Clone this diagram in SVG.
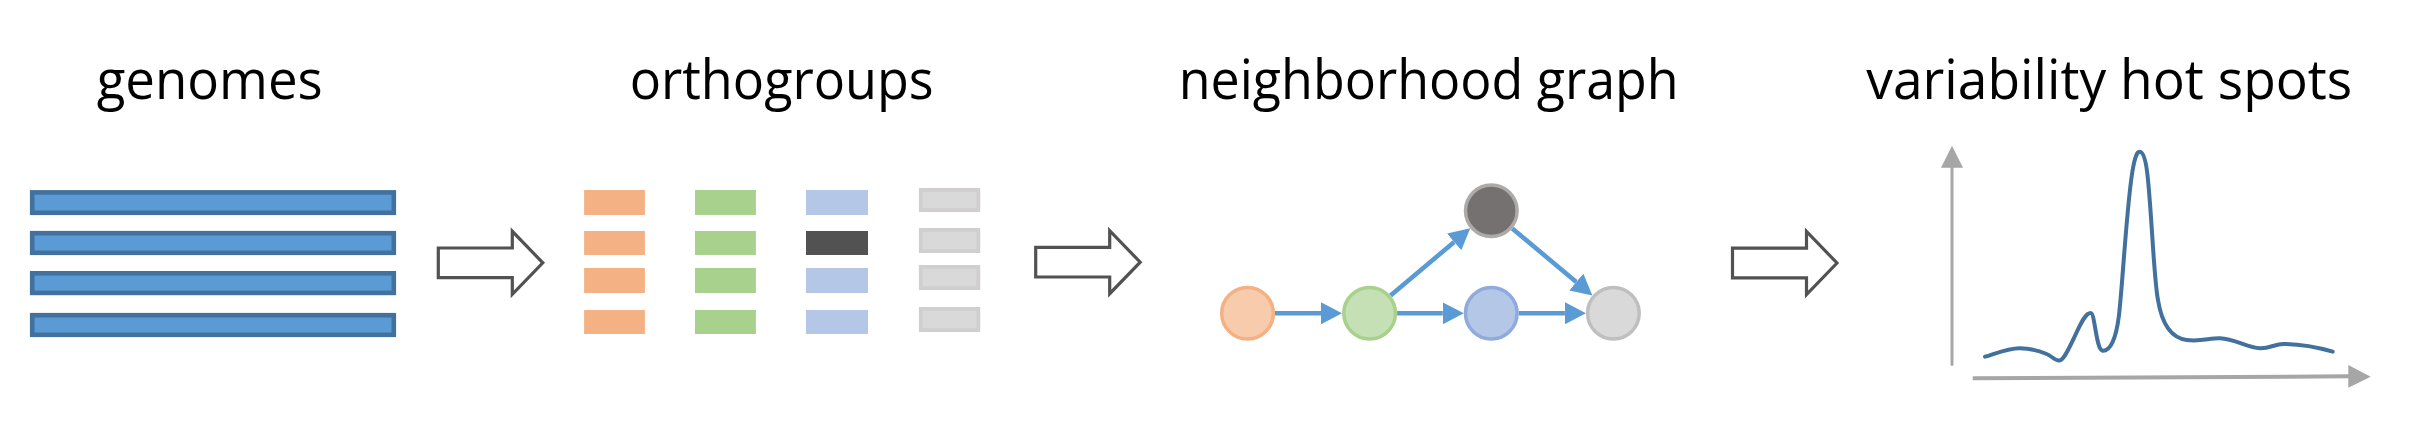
<svg xmlns="http://www.w3.org/2000/svg" width="2413" height="443" viewBox="0 0 2413 443">
<style>
.title{font-family:"Open Sans","Noto Sans","Liberation Sans",sans-serif;font-size:54px;fill:#000}
.genome{fill:#5B9BD5;stroke:#41719C;stroke-width:4.6}
.og-o{fill:#F4B183}
.og-g{fill:#A9D18E}
.og-b{fill:#B4C7E7}
.og-d{fill:#525252}
.og-x{fill:#D9D9D9;stroke:#D0CECE;stroke-width:3.8}
.step{fill:#fff;stroke:#525252;stroke-width:3.2;stroke-linejoin:miter}
.edge{stroke:#5B9BD5;stroke-width:4.6;fill:none}
.axis{stroke:#A6A6A6;fill:none}
</style>
<defs>
<marker id="ah" markerUnits="userSpaceOnUse" viewBox="0 0 21 22" markerWidth="21" markerHeight="22" refX="0" refY="11" orient="auto">
<path d="M0,0 L21,11 L0,22 Z" fill="#5B9BD5"/>
</marker>
<path id="bigarrow" d="M0,-14.8 H74 V-31.5 L104.5,0 L74,31.5 V14.8 H0 Z"/>
</defs>
<rect width="2413" height="443" fill="#fff"/>

<g id="titles">
<text class="title" x="96.7" y="99" textLength="226" lengthAdjust="spacingAndGlyphs">genomes</text>
<text class="title" x="629.7" y="99" textLength="304" lengthAdjust="spacingAndGlyphs">orthogroups</text>
<text class="title" x="1178.7" y="99" textLength="500" lengthAdjust="spacingAndGlyphs">neighborhood graph</text>
<text class="title" x="1866.3" y="99" textLength="486" lengthAdjust="spacingAndGlyphs">variability hot spots</text>
</g>

<g id="genomes">
<rect class="genome" x="32.2" y="192.4" width="361.6" height="20.4"/>
<rect class="genome" x="32.2" y="233.2" width="361.6" height="19.6"/>
<rect class="genome" x="32.2" y="273.3" width="361.6" height="19.6"/>
<rect class="genome" x="32.2" y="315.2" width="361.6" height="19.6"/>
</g>

<g id="step-arrows">
<use href="#bigarrow" class="step" transform="translate(438.3,262.8)"/>
<use href="#bigarrow" class="step" transform="translate(1035.7,262.2)"/>
<use href="#bigarrow" class="step" transform="translate(1732.5,263)"/>
</g>

<g id="orthogroups">
<rect class="og-o" x="584.1" y="190" width="60.8" height="25"/>
<rect class="og-o" x="584.1" y="231" width="60.8" height="24"/>
<rect class="og-o" x="584.1" y="268" width="60.8" height="25"/>
<rect class="og-o" x="584.1" y="310" width="60.8" height="24"/>
<rect class="og-g" x="695" y="190" width="60.9" height="25"/>
<rect class="og-g" x="695" y="231" width="60.9" height="24"/>
<rect class="og-g" x="695" y="268" width="60.9" height="25"/>
<rect class="og-g" x="695" y="310" width="60.9" height="24"/>
<rect class="og-b" x="806" y="190" width="62" height="25"/>
<rect class="og-d" x="806" y="231" width="62" height="24"/>
<rect class="og-b" x="806" y="268" width="62" height="25"/>
<rect class="og-b" x="806" y="310" width="62" height="24"/>
<rect class="og-x" x="920.8" y="189.9" width="57.5" height="20.2"/>
<rect class="og-x" x="920.8" y="229.9" width="57.5" height="21.2"/>
<rect class="og-x" x="920.8" y="266.9" width="57.5" height="21.2"/>
<rect class="og-x" x="920.8" y="308.9" width="57.5" height="21.2"/>
</g>

<g id="graph-edges">
<line class="edge" x1="1275" y1="313.3" x2="1321" y2="313.3" marker-end="url(#ah)"/>
<line class="edge" x1="1397.1" y1="313.3" x2="1442.8" y2="313.3" marker-end="url(#ah)"/>
<line class="edge" x1="1518.8" y1="313.3" x2="1564.9" y2="313.3" marker-end="url(#ah)"/>
<line class="edge" x1="1390.6" y1="295.6" x2="1454.2" y2="241.9" marker-end="url(#ah)"/>
<line class="edge" x1="1512.3" y1="228.4" x2="1576.3" y2="282.1" marker-end="url(#ah)"/>
</g>

<g id="node-orange"><circle cx="1247.5" cy="313.3" r="25.8" fill="#F8CBAD" stroke="#F4B183" stroke-width="3.5"/></g>
<g id="node-green"><circle cx="1369.6" cy="313.3" r="25.8" fill="#C5E0B4" stroke="#A9D18E" stroke-width="3.5"/></g>
<g id="node-blue"><circle cx="1491.3" cy="313.3" r="25.8" fill="#B4C7E7" stroke="#8FAADC" stroke-width="3.5"/></g>
<g id="node-gray"><circle cx="1613.4" cy="313.3" r="25.8" fill="#D9D9D9" stroke="#BFBFBF" stroke-width="3.5"/></g>
<g id="node-dark"><circle cx="1491.3" cy="210.7" r="25.8" fill="#767171" stroke="#AEAAAA" stroke-width="3.5"/></g>

<g id="hotspot-chart">
<line class="axis" x1="1952" y1="365.7" x2="1952" y2="166" stroke-width="3"/>
<path d="M1941,167.7 L1952,145.7 L1963,167.7 Z" fill="#A6A6A6"/>
<line class="axis" x1="1972.7" y1="378.3" x2="2350" y2="376.3" stroke-width="4"/>
<path d="M2348.3,365 L2370.7,376.7 L2348.3,387.8 Z" fill="#A6A6A6"/>
<path d="M1985,356.7 C2000,352 2010,348 2020,348.3 C2030,348.5 2040,351 2046.7,354 C2052,356 2055,361 2059.3,360.5 C2064,360 2068,350 2074,338 C2080,325 2085,313 2090.7,313 C2095,313 2096,350 2102.7,350.7 C2110,351 2116,340 2119,315 C2123,280 2127,200 2133,168 C2136,152 2138,151.7 2140,151.7 C2143,151.7 2146,158 2148,180 C2152,220 2154,280 2158,300 C2162,325 2172,338 2186.7,340 C2200,342 2210,338 2220,338.3 C2235,339 2248,348 2260,348.3 C2270,348.5 2275,344 2283.3,344 C2300,344 2320,348 2332.7,351.7" fill="none" stroke="#41719C" stroke-width="4" stroke-linecap="round"/>
</g>
</svg>
